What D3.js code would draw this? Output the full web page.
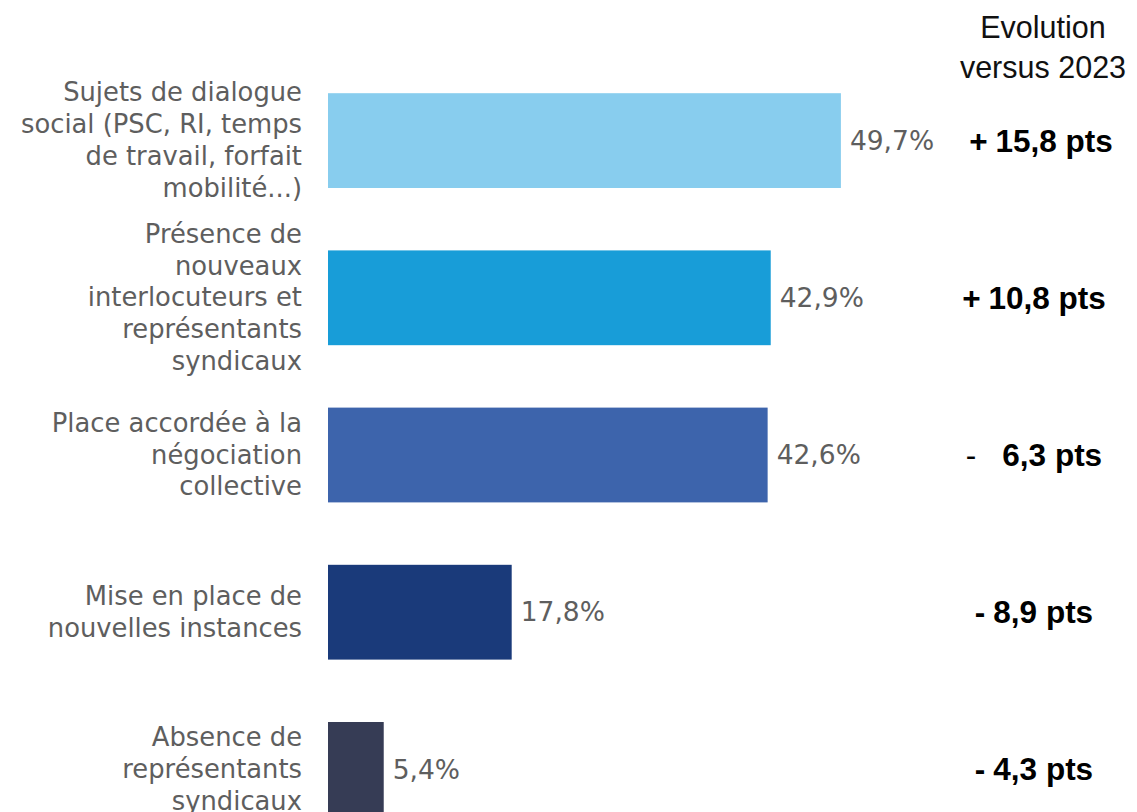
<!DOCTYPE html>
<html lang="fr">
<head>
<meta charset="utf-8">
<script src="https://cdn.jsdelivr.net/npm/d3@7"></script>
<style>
  html, body { margin: 0; padding: 0; background: #fff; }
  svg { display: block; }
</style>
</head>
<body>
<div id="chart"></div>
<script>
// Motifs cités, part des répondants (%)
const categories = [
  ["Sujets de dialogue", "social (PSC, RI, temps", "de travail, forfait", "mobilité...)"],
  ["Présence de", "nouveaux", "interlocuteurs et", "représentants", "syndicaux"],
  ["Place accordée à la", "négociation", "collective"],
  ["Mise en place de", "nouvelles instances"],
  ["Absence de", "représentants", "syndicaux"]
];
const values = [49.7, 42.9, 42.6, 17.8, 5.4];
// Évolution en points par rapport à 2023
const evolution = [15.8, 10.8, -6.3, -8.9, -4.3];
const barColors = ["#88cdee", "#189dd8", "#3d64ac", "#1a3a7a", "#363c55"];
const headerLines = ["Evolution", "versus 2023"];

const W = 1137, H = 812;
const svg = d3.select("#chart").append("svg")
  .attr("width", W).attr("height", H);

const x = d3.scaleLinear().domain([0, 50]).range([328, 328 + 50 * 10.32]);
const ids = d3.range(values.length);
const y = d3.scaleBand().domain(ids)
  .range([62, 62 + 157.2 * values.length])
  .paddingInner(0.397).paddingOuter(0.1985);

const fmt = v => d3.format(".1f")(Math.abs(v)).replace(".", ",");

// Barres
svg.append("g").selectAll("rect").data(values).join("rect")
  .attr("x", x(0))
  .attr("y", (d, i) => y(i))
  .attr("width", d => x(d) - x(0))
  .attr("height", y.bandwidth())
  .attr("fill", (d, i) => barColors[i]);

// Libellés des catégories
const lineH = 31.8;
svg.append("g").selectAll("text").data(categories).join("text")
  .attr("text-anchor", "end")
  .attr("font-family", "DejaVu Sans, sans-serif")
  .attr("font-size", 25.8)
  .attr("fill", "#5e5e5e")
  .each(function (lines, i) {
    const cy = y(i) + y.bandwidth() / 2;
    const top = cy - (lines.length - 1) * lineH / 2;
    d3.select(this).selectAll("tspan").data(lines).join("tspan")
      .attr("x", 302)
      .attr("y", (l, k) => top + k * lineH)
      .attr("dy", "0.33em")
      .text(l => l);
  });

// Valeurs
svg.append("g").selectAll("text").data(values).join("text")
  .attr("x", d => x(d) + 9)
  .attr("y", (d, i) => y(i) + y.bandwidth() / 2)
  .attr("dy", "0.35em")
  .attr("font-family", "DejaVu Sans, sans-serif")
  .attr("font-size", 26.5)
  .attr("fill", "#5e5e5e")
  .text(d => fmt(d) + "%");

// Titre de la colonne d'évolution
svg.append("g").selectAll("text").data(headerLines).join("text")
  .attr("x", 1043)
  .attr("y", (d, i) => 38 + i * 40)
  .attr("text-anchor", "middle")
  .attr("font-family", "Liberation Sans, Arial, sans-serif")
  .attr("font-size", 30.5)
  .attr("fill", "#111")
  .text(d => d);

// Évolution par motif
svg.append("g").selectAll("text").data(evolution).join("text")
  .attr("x", (d, i) => i === 0 ? 1041 : 1034)
  .attr("y", (d, i) => y(i) + y.bandwidth() / 2)
  .attr("dy", "0.35em")
  .attr("text-anchor", "middle")
  .attr("font-family", "Liberation Sans, Arial, sans-serif")
  .attr("font-size", 31.5)
  .attr("fill", "#000")
  .each(function (d, i) {
    const t = d3.select(this);
    const loose = i === 2;
    t.append("tspan")
      .attr("font-weight", loose ? "normal" : "bold")
      .text(d >= 0 ? "+" : "-");
    t.append("tspan")
      .attr("font-weight", "bold")
      .attr("dx", loose ? 26 : 8)
      .text(fmt(d) + " pts");
  });
</script>
</body>
</html>
